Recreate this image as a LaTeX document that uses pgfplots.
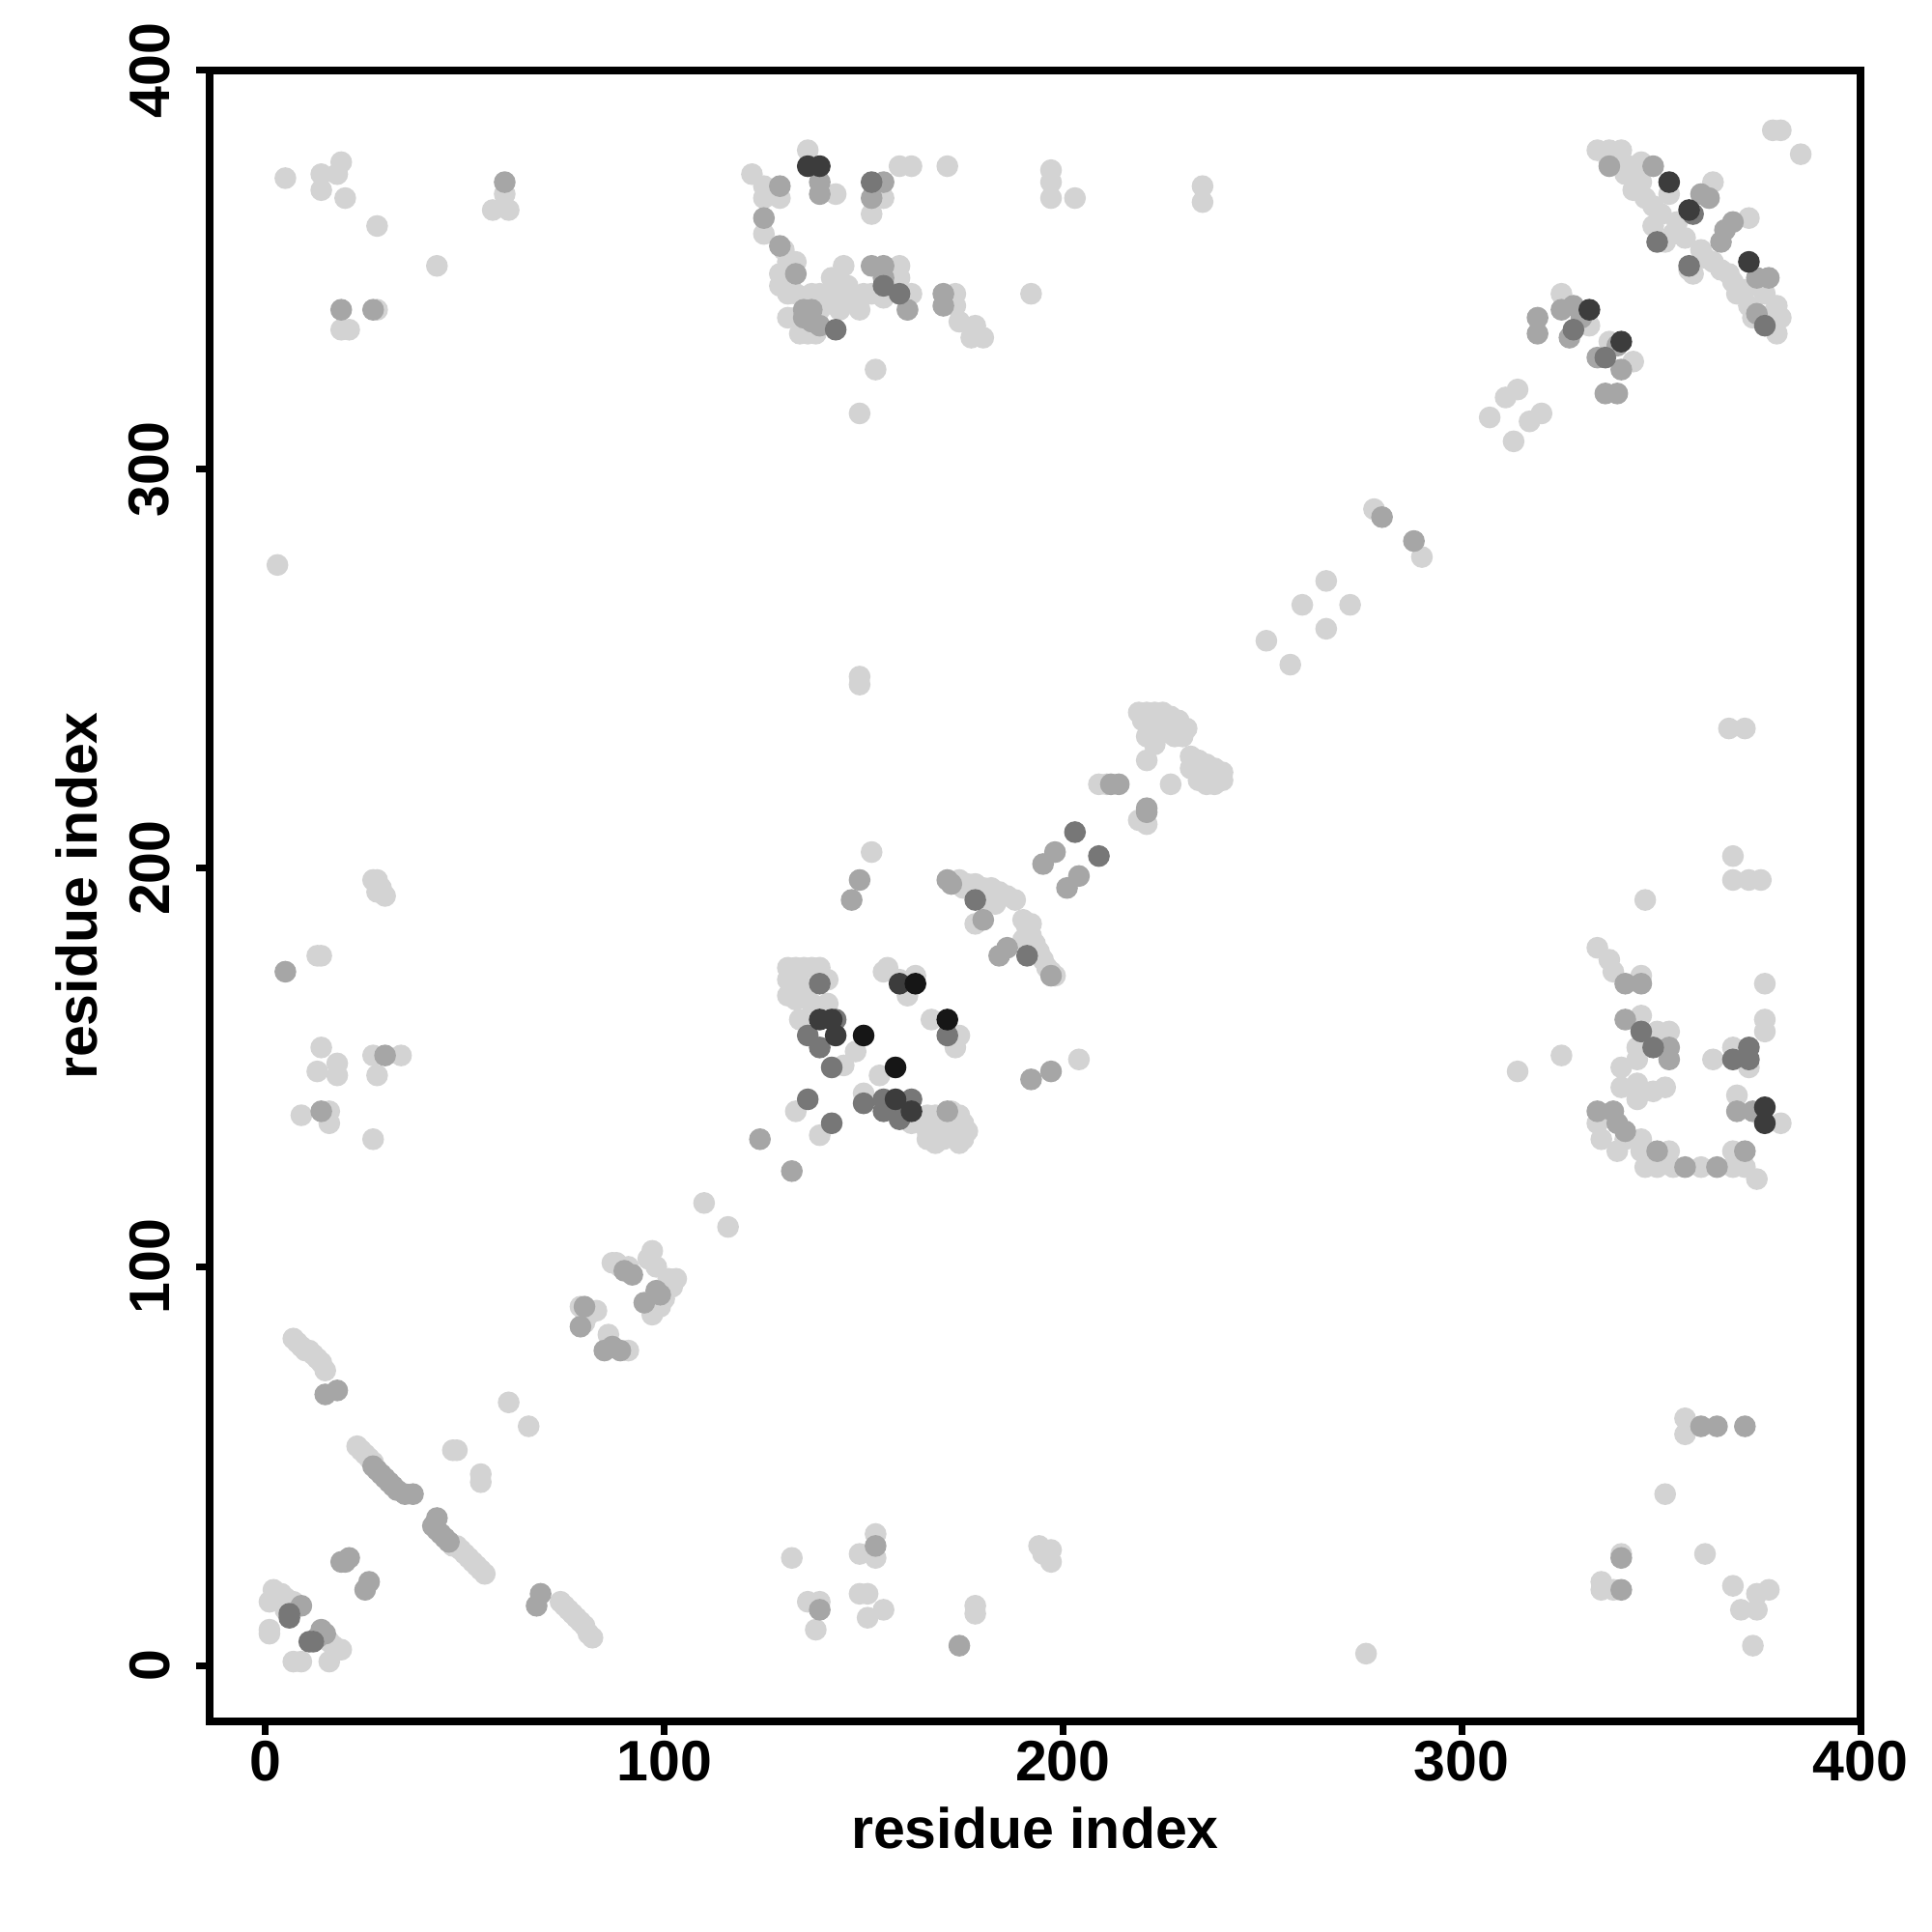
\documentclass[border=0pt]{standalone}
\usepackage{fontspec}
\setmainfont{Liberation Sans}
\usepackage{pgfplots}
\pgfplotsset{compat=1.18}
\definecolor{cL}{HTML}{D3D3D3}
\definecolor{cM}{HTML}{A6A6A6}
\definecolor{cD}{HTML}{777777}
\definecolor{cK}{HTML}{3C3C3C}
\definecolor{cB}{HTML}{161616}
\begin{document}
\begin{tikzpicture}
\useasboundingbox (-1.085,-1.09) rectangle (8.915,8.91);
\begin{axis}[
  at={(0,0)}, anchor=south west,
  scale only axis, width=8.545cm, height=8.545cm,
  xmin=-14, xmax=400, ymin=-14, ymax=400,
  xtick={0,100,200,300,400}, ytick={0,100,200,300,400},
  tick align=outside, major tick length=0.07cm,
  xtick pos=bottom, ytick pos=left,
  axis line style={line width=1.1pt},
  every tick/.style={black, line width=1pt},
  /pgf/number format/assume math mode=true,
  tick label style={font=\fontsize{8.4}{10}\selectfont\bfseries},
  label style={font=\fontsize{8.4}{10}\selectfont\bfseries},
  xticklabel style={anchor=north, inner sep=0pt, yshift=-0.025cm},
  yticklabel style={rotate=90, anchor=south, inner xsep=0pt, inner ysep=0.13cm},
  xlabel={residue index}, ylabel={residue index},
  xlabel style={at={(axis description cs:0.5,-0.0644)}, anchor=center},
  ylabel style={at={(axis description cs:-0.0807,0.5)}, anchor=center},
  every axis plot/.append style={only marks, mark=*, mark size=1.4pt},
]
% light
\addplot[color=cL] coordinates {
(7,82)(8,81)(9,80)(10,79)(11,79)(12,78)(13,77)(14,76)(15,74)
(23,55)(24,54)(25,53)(26,52)(27,51)
(47,54)(48,54)(54,48)(54,46)(61,66)(66,60)
(47,30)(48,30)(49,29)(50,28)(51,27)(52,26)(53,25)(54,24)(55,23)
(74,16)(75,15)(76,14)(77,13)(78,12)(79,11)(80,10)(81,8)(82,7)
(2,19)(1,16)(4,18)(5,17)(5,14)(7,16)(1,8)(1,9)
(16,6)(17,5)(18,4)(19,4)(7,1)(9,1)(16,1)
(79,90)(80,89)(81,88)(83,89)(80,86)(86,83)(87,101)(88,101)(89,100)(91,100)(91,79)
(97,104)(96,102)(98,100)(101,97)(102,95)(100,92)(99,90)(97,88)(103,97)
(110,116)(116,110)
(133,139)(139,133)(154,148)(150,143.5)(162,136)(145,150.5)(148,154)(134,162)(167,162)(173,155)
(166,138)(166,136)(166,134)(166,132)(168,131)(170,132)(172,133)(174,131)(175,132)(176,134)(175,136)(174,138)(172,139)(170,137)(168,138)(168,134)(172,135)
(204,152)
(131,175)(133,175)(135,175)(137,175)(139,175)(131,172)(133,171)(135,170)(131,168)(133,167)(137,166)(141,166)(141,172)(139,173)
(156,175)(159,172)(161,168)(163,173)(155,174)(174,158)
(152,204)(149,248)(149,246)
(174,197)(176,196)(178,196)(180,195)(182,195)(184,194)(186,193)(188,192)(183,191)(180,192)(178,186)(175,195)
(190,187)(191,185)(192,183)(193,181)(194,179)(195,177)(196,175)(197,174)(198,173)(190,182)(192,186)
(221,227)(209,221)(211,221)(219,212)(221,211)(227,221)
(219,239)(221,239)(223,239)(225,239)(227,238)(229,237)(231,235)(220,237)(222,236)(224,235)(226,234)(228,233)(230,233)(221,233)(223,231)
(232,228)(234,227)(236,226)(238,225)(240,224)(240,222)(238,221)(236,221)(234,222)(232,225)(236,223)
(251,257)(257,251)(260,266)(266,260)(266,272)(272,266)(278,290)(290,278)
(307,313)(311,318)(314,320)(313,307)(317,312)(320,314)
(334,380)(337,380)(340,380)(337,377)(341,374)(345,377)(345,372)(348,366)(352,369)(348,361)(351,357)(353,359)(357,350)(358,349)(361,353)(363,372)(372,363)(367,349)(371,345)(369,344)(372,341)(373,338)(379,341)(380,338)(379,334)(343,370)(346,368)(350,364)(354,362)(356,358)(360,355)(363,352)(365,350)(368,347)(376,344)(378,339)(339,378)(342,376)
(378,385)(380,385)(385,379)
(325,344)(332,336)(337,332)(343,327)
(122,374)(136,380)(125,371)(125,368)(129,368)(143,369)(155,368)(152,364)(159,376)(162,376)(171,376)(197,375)(197,372)(197,368)(203,368)(125,359)(130,355)(131,352)(133,352)(129,349)(129,346)
(131,344)(133,344)(137,344)(139,344)(141,342)(143,342)(131,338)(133,338)(134,334)(136,334)(138,334)(139,340)(143,345)(146,346)(146,342)(144,340)(145,351)(142,348)(149,340)(159,351)(159,348)(162,344)(161,340)(152,344)(155,343)(150,344)(173,344)(173,341)(174,337)(178,336)(177,333)(180,333)(192,344)(153,325)(149,314)(235,371)(235,367)
(5,373)(14,374)(14,370)(19,377)(18,374)(20,368)(28,361)(43,351)(19,335)(21,335)(28,340)(60,369)(57,365)(61,365)(3,276)
(27,197)(28,197)(29,195)(30,193)(28,194)(13,178)(14,178)
(14,155)(13,149)(18,151)(18,148)(27,153)(34,153)(28,148)(9,138)(16,139)(16,136)(27,132)
(367,235)(371,235)(368,203)(368,197)(372,197)(375,197)(346,192)(376,171)(376,162)(376,159)
(334,180)(337,177)(338,174)(345,173)(345,163)(349,159)(352,159)(344,155)(344,152)(340,150)(340,145)(344,146)(344,142)(348,144)(351,145)(363,152)(372,150)(368,155)(369,143)(380,136)
(334,136)(335,132)(341,132)(339,129)(345,132)(345,129)(352,129)(346,125)(349,125)(353,125)(360,125)(368,125)(371,125)(374,122)(368,129)(325,153)(314,149)
(132,27)(149,28)(153,33)(153,27)(136,16)(139,16)(138,9)(149,18)(151,18)(151,12)(155,14)(178,15)(178,13)(194,30)(195,28)(197,29)(197,26)(276,3)(340,28)(335,21)(338,19)(335,19)(351,43)(361,28)(368,20)(370,14)(374,14)(374,18)(377,19)(373,5)(356,62)(356,58)
};
% medium
\addplot[color=cM] coordinates {
(15,68)(18,69)
(27,50)(28,49)(29,48)(30,47)(31,46)(32,45)(33,44)(35,43)(37,43)
(43,37)(42,35)(43,34)(44,33)(45,32)(46,31)
(19,26)(20,26)(21,27)(26,21)(25,19)(69,18)(68,15)
(9,15)(14,9)(15,8)(13,7)
(80,90)(79,85)(85,79)(87,80)(89,79)(90,99)(92,98)(99,93)(95,91)(98,94)
(124,132)(132,124)(147,192)(149,197)(192,147)(197,149)
(171,197)(172,196)(180,187)(186,180)(184,178)(197,173)(171,139)
(195,201)(198,204)(204,198)(201,195)(212,221)(221,214)(214,221)(221,215)
(280,288)(288,282)
(340,27)(340,19)(139,14)(153,30)(174,5)
(337,376)(348,376)(362,368)(360,369)(365,357)(368,362)(366,360)(374,348)(377,348)(374,339)(319,338)(319,334)(325,340)(328,341)(330,338)(327,333)(339,331)(334,328)(340,325)(336,319)(339,319)
(129,371)(139,372)(139,369)(155,372)(152,368)(125,363)(129,356)(133,349)(135,340)(137,340)(135,338)(137,337)(139,336)(152,351)(155,351)(155,348)(161,340)(170,344)(170,341)
(19,340)(27,340)(60,372)
(5,174)(30,153)(14,139)
(341,171)(345,171)(341,162)(352,155)(352,152)(334,139)(338,139)(339,136)(341,134)(349,129)(356,125)(364,125)(371,129)(369,139)(373,139)(360,60)(364,60)(371,60)
};
% dark
\addplot[color=cD] coordinates {
(6,12)(6,13)(11,6)(12,6)
(136,142)(142,136)(150,141)(155,142)(162,142)(159,137)(155,139)(143,162)(136,158)(139,155)(142,150)(171,158)(139,171)
(191,178)(178,192)(203,209)(209,203)
(152,372)(143,335)(155,346)(159,344)
(358,364)(349,357)(357,351)(328,335)(336,328)(376,336)
(345,159)(348,155)(368,152)(372,155)(372,152)
};
% very dark
\addplot[color=cK] coordinates {
(136,376)(139,376)
(139,162)(142,162)(143,158)(158,142)(162,139)(159,171)
(352,372)(357,365)(372,352)(332,340)(340,332)
(376,140)(376,136)
};
% black
\addplot[color=cB] coordinates {
(150,158)(158,150)(163,171)(171,162)
};
\end{axis}
\end{tikzpicture}
\end{document}
